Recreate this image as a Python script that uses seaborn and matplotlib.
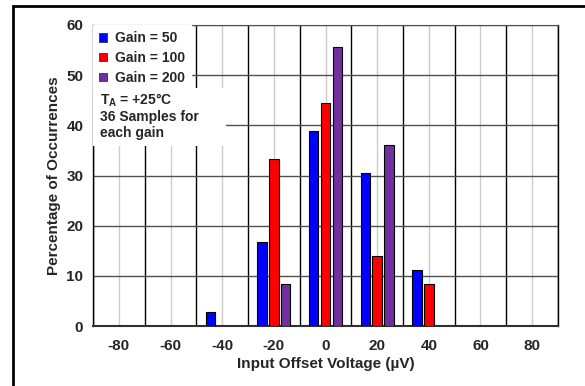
import matplotlib
matplotlib.use("Agg")
import matplotlib.pyplot as plt
import seaborn as sns
import pandas as pd
from matplotlib.patches import Rectangle
from matplotlib.lines import Line2D

categories = ["-80", "-60", "-40", "-20", "0", "20", "40", "60", "80"]
gain50_cats = ["-40", "-20", "0", "20", "40"]
gain50_vals = [2.78, 16.67, 38.89, 30.56, 11.11]
gain100_cats = ["-20", "0", "20", "40"]
gain100_vals = [33.33, 44.44, 13.89, 8.33]
gain200_cats = ["-20", "0", "20"]
gain200_vals = [8.33, 55.56, 36.11]
series = ["Gain = 50", "Gain = 100", "Gain = 200"]
colors = ["#0000FF", "#FF0000", "#7030A0"]

rows = []
for name, cats, vals in zip(series, [gain50_cats, gain100_cats, gain200_cats],
                            [gain50_vals, gain100_vals, gain200_vals]):
    for c, v in zip(cats, vals):
        rows.append({"cat": c, "val": v, "series": name})
df = pd.DataFrame(rows)

sns.set_style("white")
plt.rcParams["font.family"] = ["Liberation Sans", "DejaVu Sans"]
plt.rcParams["font.weight"] = "bold"
plt.rcParams["mathtext.fontset"] = "custom"
plt.rcParams["mathtext.rm"] = "Liberation Sans:bold"
plt.rcParams["mathtext.bf"] = "Liberation Sans:bold"

fig = plt.figure(figsize=(5.85, 3.86), dpi=100)
ax = fig.add_axes([93/585, 1-326/386, (558-93)/585, (326-25)/386])

sns.barplot(data=df, x="cat", y="val", hue="series", order=categories,
            hue_order=series, palette=colors, width=0.68, gap=0.2,
            edgecolor="black", linewidth=0.8, saturation=1, ax=ax, zorder=3,
            legend=True)

ax.set_xlim(-0.5, len(categories) - 0.5)
ax.set_ylim(0, 60)
ax.set_yticks(range(0, 61, 10))
ax.set_xticks(range(len(categories)))
ax.set_xticklabels(categories)
ax.set_xticks([i + 0.5 for i in range(-1, len(categories))], minor=True)

ax.grid(False)
ax.yaxis.grid(True, which="major", color="#505050", linewidth=1.0, zorder=0)
ax.xaxis.grid(True, which="major", color="#cccccc", linewidth=1.0, zorder=0)
ax.xaxis.grid(True, which="minor", color="#000000", linewidth=1.0, zorder=0)
ax.set_axisbelow(True)

ax.tick_params(axis="x", which="major", length=0, pad=9, labelsize=11)
ax.tick_params(axis="x", which="minor", length=5, width=1, color="black", direction="out")
ax.tick_params(axis="y", which="major", length=5, width=1, color="black", direction="out",
               pad=2, labelsize=11)
for lab in ax.get_xticklabels() + ax.get_yticklabels():
    lab.set_fontweight("bold")

for side in ["left", "right"]:
    ax.spines[side].set_color("black")
    ax.spines[side].set_linewidth(1.0)
ax.spines["top"].set_color("#505050")
ax.spines["bottom"].set_color("#303030")
ax.spines["bottom"].set_linewidth(1.5)

ax.set_xlabel("Input Offset Voltage (µV)", fontsize=11, fontweight="bold", labelpad=3)
ax.set_ylabel("Percentage of Occurrences", fontsize=11, fontweight="bold", labelpad=4)

leg = ax.legend(loc="upper left", bbox_to_anchor=(0, 1), borderaxespad=0,
                frameon=True, fancybox=False, framealpha=1, edgecolor="white",
                facecolor="white", prop={"size": 10, "weight": "bold"},
                handlelength=0.55, handleheight=0.55, handletextpad=0.55,
                labelspacing=0.42, borderpad=0.45)
leg.set_zorder(5)
for h in leg.legend_handles:
    h.set_edgecolor("#333333")
    h.set_linewidth(0.6)

ax.add_patch(Rectangle((0, (326-146)/301), (226-93)/465, (146-88)/301,
                       transform=ax.transAxes, facecolor="white", edgecolor="none",
                       zorder=4))
ax.text(7/465, (326-92)/301, "T$_\\mathbf{A}$ = +25°C\n36 Samples for\neach gain",
        transform=ax.transAxes, fontsize=10, fontweight="bold", va="top", ha="left",
        linespacing=1.1, zorder=6)

# outer frame (top and left edges only)
fig.add_artist(Line2D([12.5/585, 12.5/585, 1.0], [0.0, 1 - 5.5/386, 1 - 5.5/386],
                      transform=fig.transFigure, color="black", linewidth=2,
                      solid_joinstyle="miter", solid_capstyle="butt"))

fig.savefig("out.png", dpi=100, facecolor="white")
